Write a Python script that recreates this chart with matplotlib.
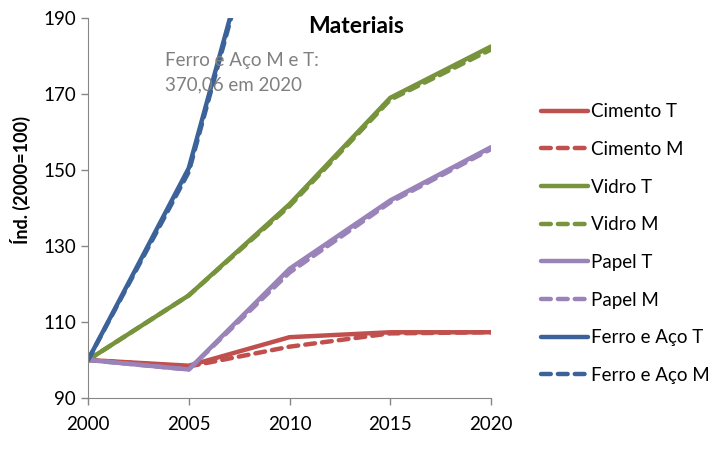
import numpy as np
import matplotlib.pyplot as plt

plt.rcParams['font.family'] = ['Lato', 'DejaVu Sans']

anos = [2000, 2005, 2010, 2015, 2020]
cimento_t = [100, 98.5, 106, 107.3, 107.3]
cimento_m = [100, 98.3, 103.5, 107.0, 107.3]
vidro_t = [100, 117, 141, 169, 182.5]
vidro_m = [100, 117, 140.5, 168.5, 181.7]
papel_t = [100, 97.5, 124, 142, 156]
papel_m = [100, 97.5, 123, 141.5, 155.5]
ferro_t = [100, 150.5, 247, 310, 370.06]
ferro_m = [100, 149.5, 246, 309, 370.06]

vermelho = '#C0504D'
verde = '#77933C'
roxo = '#9983B8'
azul = '#3B639A'

fig = plt.figure(figsize=(7.2, 4.5), dpi=100)
ax = fig.add_axes([88/720, 1 - 398/450, (491 - 88)/720, (398 - 18)/450])

series = [
    (cimento_t, vermelho, '-', 'Cimento T'),
    (cimento_m, vermelho, '--', 'Cimento M'),
    (vidro_t, verde, '-', 'Vidro T'),
    (vidro_m, verde, '--', 'Vidro M'),
    (papel_t, roxo, '-', 'Papel T'),
    (papel_m, roxo, '--', 'Papel M'),
    (ferro_t, azul, '-', 'Ferro e Aço T'),
    (ferro_m, azul, '--', 'Ferro e Aço M'),
]
for vals, cor, estilo, nome in series:
    ln, = ax.plot(anos, vals, color=cor, linestyle=estilo, lw=3.2, label=nome,
                  solid_capstyle='round', dash_capstyle='round')
    if estilo == '--':
        ln.set_dashes((2.2, 1.6))

ax.set_xlim(2000, 2020)
ax.set_ylim(90, 190)
ax.set_xticks([2000, 2005, 2010, 2015, 2020])
ax.set_yticks([90, 110, 130, 150, 170, 190])
for s in ['top', 'right']:
    ax.spines[s].set_visible(False)
for s in ['left', 'bottom']:
    ax.spines[s].set_color('#868686')
ax.tick_params(colors='#868686', labelcolor='black', labelsize=13.5, length=5, width=1)
ax.tick_params(axis='x', pad=8)

ax.text(0.665, 1.005, 'Materiais', transform=ax.transAxes, ha='center', va='top',
        fontsize=16.5, fontweight='bold')
ax.text(0.19, 0.91, 'Ferro e Aço M e T:\n370,06 em 2020', transform=ax.transAxes,
        ha='left', va='top', fontsize=13.5, color='#808080', linespacing=1.5)

fig.text(0.028, 0.6, 'Índ. (2000=100)', rotation=90, ha='center', va='center',
         fontsize=13, fontweight='bold')

ax.legend(loc='upper left', bbox_to_anchor=(1.105, 0.795), frameon=False, fontsize=13.5,
          handlelength=2.5, handletextpad=0.15, labelspacing=1.1, borderaxespad=0)

fig.savefig('out.png', dpi=100)
